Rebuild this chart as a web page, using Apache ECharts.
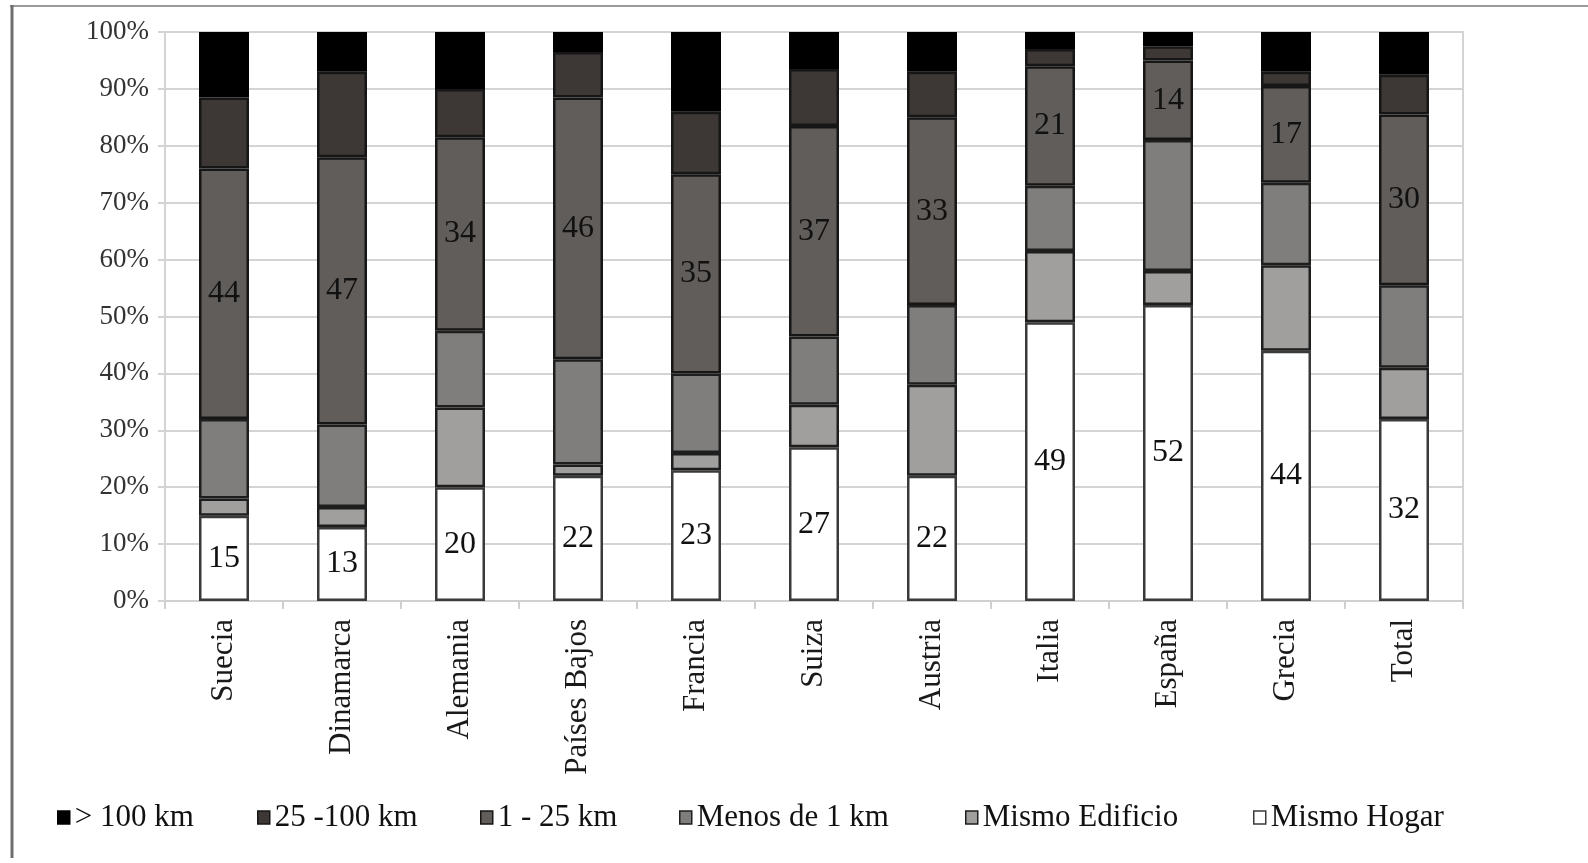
<!DOCTYPE html>
<html>
<head>
<meta charset="utf-8">
<script src="https://cdn.jsdelivr.net/npm/echarts@6/dist/echarts.min.js"></script>
<style>
  html, body { margin: 0; padding: 0; background: #fff; }
  #chart { width: 1588px; height: 863px; }
</style>
</head>
<body>
<div id="chart"></div>
<script>
// ---- Data (percent of each country, stacked bottom to top) ----
const categories = ['Suecia', 'Dinamarca', 'Alemania', 'Países Bajos', 'Francia', 'Suiza', 'Austria', 'Italia', 'España', 'Grecia', 'Total'];
const mismoHogar    = [15, 13, 20, 22, 23, 27, 22, 49, 52, 44, 32];
const mismoEdificio = [3, 3.5, 14, 2, 3, 7.5, 16, 12.5, 6, 15, 9];
const menos1km      = [14, 14.5, 13.5, 18.5, 14, 12, 14, 11.5, 23, 14.5, 14.5];
const km1a25        = [44, 47, 34, 46, 35, 37, 33, 21, 14, 17, 30];
const km25a100      = [12.5, 15, 8.5, 8, 11, 10, 8, 3, 2.5, 2.5, 7];
const mas100km      = [11.5, 7, 10, 3.5, 14, 6.5, 7, 3, 2.5, 7, 7.5];
const seriesNames   = ['Mismo Hogar', 'Mismo Edificio', 'Menos de 1 km', '1 - 25 km', '25 -100 km', '> 100 km'];
const yTicks        = [0, 10, 20, 30, 40, 50, 60, 70, 80, 90, 100];

const FONT = '"Liberation Serif", "DejaVu Serif", serif';
const colors = ['#ffffff', '#a09f9d', '#7f7e7c', '#615d5b', '#3d3835', '#000000'];
const borders = ['#3a3a3a', '#1e1e1e', '#1e1e1e', '#161616', '#161616', '#000000'];
const dataSets = [mismoHogar, mismoEdificio, menos1km, km1a25, km25a100, mas100km];
const labelled = [true, false, false, true, false, false];

const series = seriesNames.map((name, i) => ({
  name: name,
  type: 'bar',
  stack: 'total',
  barWidth: 50,
  data: dataSets[i],
  itemStyle: { color: colors[i], borderColor: borders[i], borderWidth: 2.5 },
  label: {
    show: labelled[i],
    position: 'inside',
    fontFamily: FONT,
    fontSize: 32,
    color: '#111',
    formatter: p => String(p.value)
  },
  emphasis: { disabled: true }
}));

// legend items placed individually (order as in reference)
const legendOrder = ['> 100 km', '25 -100 km', '1 - 25 km', 'Menos de 1 km', 'Mismo Edificio', 'Mismo Hogar'];
const legendLeft = [52, 252, 475, 674, 960, 1248];
const legends = legendOrder.map((n, i) => ({
  data: [n],
  left: legendLeft[i],
  top: 797,
  orient: 'horizontal',
  icon: 'rect',
  itemWidth: 12,
  itemHeight: 13,
  selectedMode: false,
  itemStyle: { borderWidth: 1.5 },
  textStyle: { fontFamily: FONT, fontSize: 31, color: '#111', lineHeight: 30 }
}));

const chart = echarts.init(document.getElementById('chart'), null, { renderer: 'canvas' });
chart.setOption({
  animation: false,
  backgroundColor: '#ffffff',
  grid: { left: 165, right: 125, top: 32, bottom: 262, show: true, borderColor: '#d4d4d4', borderWidth: 2, containLabel: false },
  legend: legends,
  xAxis: {
    type: 'category',
    data: categories,
    axisLine: { show: true, lineStyle: { color: '#d0d0d0', width: 2 } },
    axisTick: { show: true, length: 8, lineStyle: { color: '#d0d0d0', width: 2 } },
    axisLabel: { rotate: 90, margin: 18, fontFamily: FONT, fontSize: 31, color: '#1a1a1a' },
    splitLine: { show: false }
  },
  yAxis: {
    type: 'value',
    min: yTicks[0],
    max: yTicks[yTicks.length - 1],
    interval: 10,
    axisLine: { show: true, lineStyle: { color: '#d4d4d4', width: 2 } },
    axisTick: { show: true, length: 7, lineStyle: { color: '#d4d4d4', width: 2 } },
    axisLabel: { margin: 16, fontFamily: FONT, fontSize: 27, color: '#333', formatter: '{value}%' },
    splitLine: { show: true, lineStyle: { color: '#d4d4d4', width: 2 } }
  },
  graphic: [
    { type: 'line', shape: { x1: 10, y1: 6, x2: 1588, y2: 6 }, style: { stroke: '#9b9b9b', lineWidth: 2 }, silent: true },
    { type: 'line', shape: { x1: 12, y1: 5, x2: 12, y2: 858 }, style: { stroke: '#6f6f6f', lineWidth: 3 }, silent: true }
  ],
  series: series
});
</script>
</body>
</html>
